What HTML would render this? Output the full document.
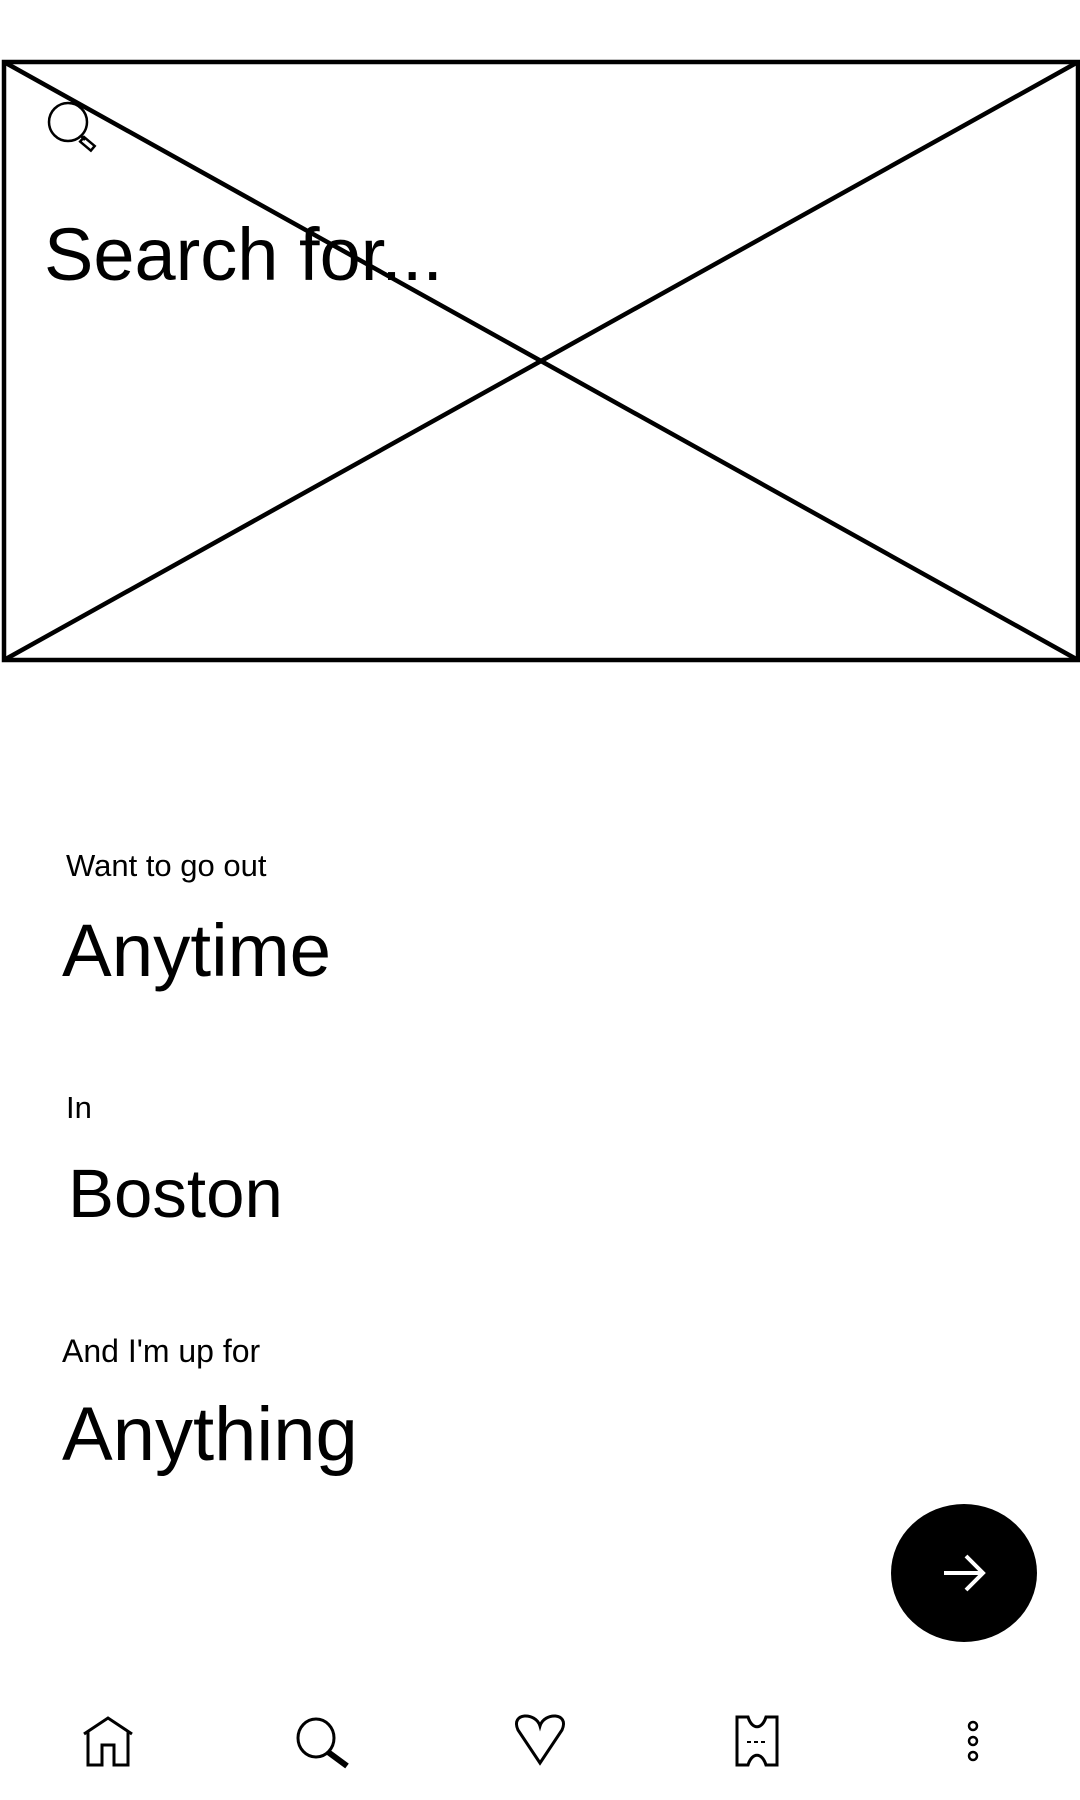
<!DOCTYPE html>
<html><head><meta charset="utf-8"><style>
html,body{margin:0;padding:0;background:#fff;}
body{width:1080px;height:1800px;position:relative;overflow:hidden;font-family:"Liberation Sans",sans-serif;color:#000;}
</style></head><body>
<svg width="1080" height="1800" style="position:absolute;left:0;top:0">
<g stroke="#000" stroke-width="4.5" fill="none">
<rect x="4" y="62" width="1074" height="598"/>
<line x1="4" y1="62" x2="1078" y2="660"/>
<line x1="1078" y1="62" x2="4" y2="660"/>
</g>
<g stroke="#000" stroke-width="2.5" fill="none">
<circle cx="68" cy="122" r="19"/>
<line x1="81" y1="136" x2="85" y2="140"/>
<rect x="84" y="137" width="14" height="6" transform="rotate(40 84 137)"/>
</g>
<text x="44" y="280" font-family="Liberation Sans" font-size="74">Search for...</text>
<text x="66" y="876" font-size="31" font-family="Liberation Sans">Want to go out</text>
<text x="62" y="976" font-size="74.5" font-family="Liberation Sans">Anytime</text>
<text x="66" y="1118" font-size="31" font-family="Liberation Sans">In</text>
<text x="68" y="1217" font-size="69" font-family="Liberation Sans">Boston</text>
<text x="62" y="1362" font-size="32" font-family="Liberation Sans">And I'm up for</text>
<text x="62" y="1460" font-size="76" font-family="Liberation Sans">Anything</text>
<g>
<ellipse cx="964" cy="1573" rx="73" ry="69" fill="#000"/>
<g stroke="#fff" stroke-width="4" fill="none"><line x1="944" y1="1573" x2="983" y2="1573"/><polyline points="966,1556 983,1573 966,1590"/></g>
</g>
<g stroke="#000" stroke-width="3" fill="none">
<g><polyline points="84,1734 108,1718 132,1734"/><polyline points="88,1731 88,1765 102,1765 102,1745 114,1745 114,1765 128,1765 128,1731"/></g>
<g><ellipse cx="316" cy="1738" rx="18" ry="19"/><line x1="328" y1="1752" x2="347" y2="1766" stroke-width="6"/></g>
<g><path d="M540,1763 L518,1730 C510,1712 536,1712 540,1726 C544,1712 570,1712 562,1730 Z"/></g>
<g><path d="M737,1717 H748 C752,1730 762,1730 766,1717 H777 V1765 H766 C762,1752 752,1752 748,1765 H737 Z"/><line x1="747" y1="1742" x2="768" y2="1742" stroke-dasharray="4 3" stroke-width="2"/></g>
<g stroke-width="2.5"><circle cx="973" cy="1726" r="4"/><circle cx="973" cy="1741" r="4"/><circle cx="973" cy="1756" r="4"/></g>
</g>
</svg>
</body></html>
